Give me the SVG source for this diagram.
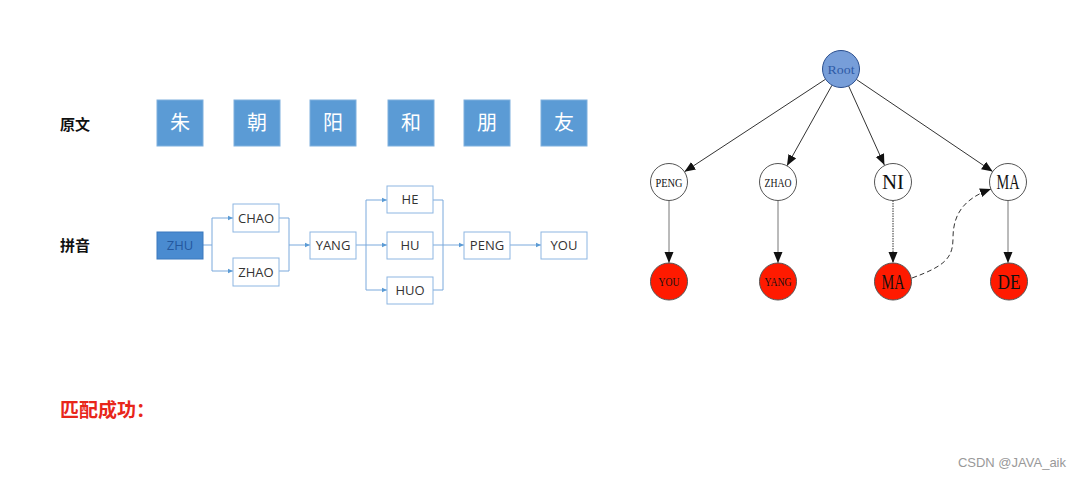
<svg xmlns="http://www.w3.org/2000/svg" width="1080" height="478" viewBox="0 0 1080 478">
  <style>
    .lbl { font-family: "Noto Sans CJK SC", "Noto Sans", sans-serif; font-weight: bold; font-size: 15px; fill: #111; }
    .han { fill: #5B9BD5; stroke: #7FB0DE; stroke-width: 1; }
    .hant { font-family: "Noto Sans CJK SC", sans-serif; font-size: 20px; fill: #fff; text-anchor: middle; }
    .py { fill: #fff; stroke: #8DB6E2; stroke-width: 1; }
    .pyt { font-family: "Open Sans", "Noto Sans", sans-serif; font-size: 13px; fill: #333; text-anchor: middle; }
    .flow { fill: none; stroke: #7AA9DC; stroke-width: 1; }
    .tn { stroke: #555; stroke-width: 1; }
    .tt { font-family: "Liberation Serif", serif; fill: #111; text-anchor: middle; }
    .edge { fill: none; stroke: #333; stroke-width: 1; }
    .vedge { fill: none; stroke: #777; stroke-width: 1; }
  </style>
  <defs>
    <marker id="fa" markerWidth="6" markerHeight="6" refX="5" refY="3" orient="auto" markerUnits="userSpaceOnUse">
      <path d="M0,0.8 L5,3 L0,5.2 z" fill="#5B9BD5"/>
    </marker>
    <marker id="ta" markerWidth="12" markerHeight="10" refX="11" refY="4.5" orient="auto" markerUnits="userSpaceOnUse">
      <path d="M0,0 L11,4.5 L0,9 z" fill="#111"/>
    </marker>
  </defs>
  <rect width="1080" height="478" fill="#fff"/>

  <!-- row labels -->
  <text class="lbl" x="60" y="130">原文</text>
  <text class="lbl" x="60" y="251">拼音</text>

  <!-- original characters -->
  <g id="han-zhu"><rect class="han" x="157" y="100" width="46" height="46"/><text class="hant" x="180" y="130">朱</text></g>
  <g id="han-chao"><rect class="han" x="234" y="100" width="46" height="46"/><text class="hant" x="257" y="130">朝</text></g>
  <g id="han-yang"><rect class="han" x="310" y="100" width="46" height="46"/><text class="hant" x="333" y="130">阳</text></g>
  <g id="han-he"><rect class="han" x="388" y="100" width="46" height="46"/><text class="hant" x="411" y="130">和</text></g>
  <g id="han-peng"><rect class="han" x="464" y="100" width="46" height="46"/><text class="hant" x="487" y="130">朋</text></g>
  <g id="han-you"><rect class="han" x="541" y="100" width="46" height="46"/><text class="hant" x="564" y="130">友</text></g>

  <!-- pinyin lattice connectors -->
  <g id="lattice-links">
    <path class="flow" d="M203,245 H212 M212,218 V271"/>
    <path class="flow" d="M212,218 H233" marker-end="url(#fa)"/>
    <path class="flow" d="M212,271 H233" marker-end="url(#fa)"/>
    <path class="flow" d="M279,218 H289 V271 H279"/>
    <path class="flow" d="M289,245 H310" marker-end="url(#fa)"/>
    <path class="flow" d="M356,245 H366 M366,200 V290"/>
    <path class="flow" d="M366,200 H387" marker-end="url(#fa)"/>
    <path class="flow" d="M366,245 H387" marker-end="url(#fa)"/>
    <path class="flow" d="M366,290 H387" marker-end="url(#fa)"/>
    <path class="flow" d="M433,200 H443 V290 H433 M433,245 H443"/>
    <path class="flow" d="M443,245 H464" marker-end="url(#fa)"/>
    <path class="flow" d="M510,245 H541" marker-end="url(#fa)"/>
  </g>

  <!-- pinyin nodes -->
  <g id="py-zhu"><rect x="157" y="232" width="46" height="27" fill="#4A8BD0" stroke="#3A78BE"/><text class="pyt" x="180" y="250" style="fill:#24589E">ZHU</text></g>
  <g id="py-chao"><rect class="py" x="233" y="204" width="46" height="28"/><text class="pyt" x="256" y="223">CHAO</text></g>
  <g id="py-zhao"><rect class="py" x="233" y="258" width="46" height="28"/><text class="pyt" x="256" y="277">ZHAO</text></g>
  <g id="py-yang"><rect class="py" x="310" y="232" width="46" height="27"/><text class="pyt" x="333" y="250">YANG</text></g>
  <g id="py-he"><rect class="py" x="387" y="186" width="46" height="27"/><text class="pyt" x="410" y="204">HE</text></g>
  <g id="py-hu"><rect class="py" x="387" y="232" width="46" height="27"/><text class="pyt" x="410" y="250">HU</text></g>
  <g id="py-huo"><rect class="py" x="387" y="277" width="46" height="27"/><text class="pyt" x="410" y="295">HUO</text></g>
  <g id="py-peng"><rect class="py" x="464" y="232" width="46" height="27"/><text class="pyt" x="487" y="250">PENG</text></g>
  <g id="py-you"><rect class="py" x="541" y="232" width="46" height="27"/><text class="pyt" x="564" y="250">YOU</text></g>

  <!-- trie edges -->
  <g id="trie-edges">
    <path class="edge" d="M825.6,79.2 L684.4,171.8" marker-end="url(#ta)"/>
    <path class="edge" d="M832,85.2 L787,165.8" marker-end="url(#ta)"/>
    <path class="edge" d="M848.6,85.9 L884.4,165.1" marker-end="url(#ta)"/>
    <path class="edge" d="M856.3,79.4 L992.7,171.6" marker-end="url(#ta)"/>
    <path class="vedge" d="M669,200.5 V263" marker-end="url(#ta)"/>
    <path class="vedge" d="M778,200.5 V263" marker-end="url(#ta)"/>
    <path class="edge" d="M893,200.5 V263" stroke-dasharray="1.5,1" marker-end="url(#ta)"/>
    <path class="vedge" d="M1008,200.5 V263" marker-end="url(#ta)"/>
    <path class="edge" d="M912,278 C945,266 953,258 953,238 C953,212 966,198 991,189" stroke-dasharray="5,3" marker-end="url(#ta)"/>
  </g>

  <!-- trie nodes -->
  <g id="t-root"><circle cx="841" cy="69" r="18.5" fill="#779ED9" stroke="#2A4E8E"/><text class="tt" x="841" y="73.5" font-size="13" textLength="27" lengthAdjust="spacingAndGlyphs" style="fill:#2E5AA6">Root</text></g>
  <g id="t-peng"><circle class="tn" cx="669" cy="182" r="18.5" fill="#fff"/><text class="tt" x="669" y="186.5" font-size="13" textLength="27" lengthAdjust="spacingAndGlyphs">PENG</text></g>
  <g id="t-zhao"><circle class="tn" cx="778" cy="182" r="18.5" fill="#fff"/><text class="tt" x="778" y="186.5" font-size="13" textLength="27" lengthAdjust="spacingAndGlyphs">ZHAO</text></g>
  <g id="t-ni"><circle class="tn" cx="893" cy="182" r="18.5" fill="#fff"/><text class="tt" x="893" y="189" font-size="20" textLength="22" lengthAdjust="spacingAndGlyphs">NI</text></g>
  <g id="t-ma"><circle class="tn" cx="1008" cy="182" r="18.5" fill="#fff"/><text class="tt" x="1008" y="189" font-size="20" textLength="23" lengthAdjust="spacingAndGlyphs">MA</text></g>
  <g id="t-you"><circle class="tn" cx="669" cy="281.5" r="18.5" fill="#FF1A00"/><text class="tt" x="669" y="286" font-size="13" textLength="21" lengthAdjust="spacingAndGlyphs">YOU</text></g>
  <g id="t-yang"><circle class="tn" cx="778" cy="281.5" r="18.5" fill="#FF1A00"/><text class="tt" x="778" y="286" font-size="13" textLength="27" lengthAdjust="spacingAndGlyphs">YANG</text></g>
  <g id="t-ma2"><circle class="tn" cx="893" cy="281.5" r="18.5" fill="#FF1A00"/><text class="tt" x="893" y="288.5" font-size="20" textLength="23" lengthAdjust="spacingAndGlyphs">MA</text></g>
  <g id="t-de"><circle class="tn" cx="1009" cy="281.5" r="18.5" fill="#FF1A00"/><text class="tt" x="1009" y="288.5" font-size="20" textLength="23" lengthAdjust="spacingAndGlyphs">DE</text></g>

  <!-- result line -->
  <text x="60" y="417" font-family="Noto Sans CJK SC, sans-serif" font-weight="bold" font-size="19" fill="#E8261A">匹配成功：</text>

  <!-- watermark -->
  <text x="1066" y="467" text-anchor="end" font-family="Liberation Sans, sans-serif" font-size="13" fill="#999">CSDN @JAVA_aik</text>
</svg>
